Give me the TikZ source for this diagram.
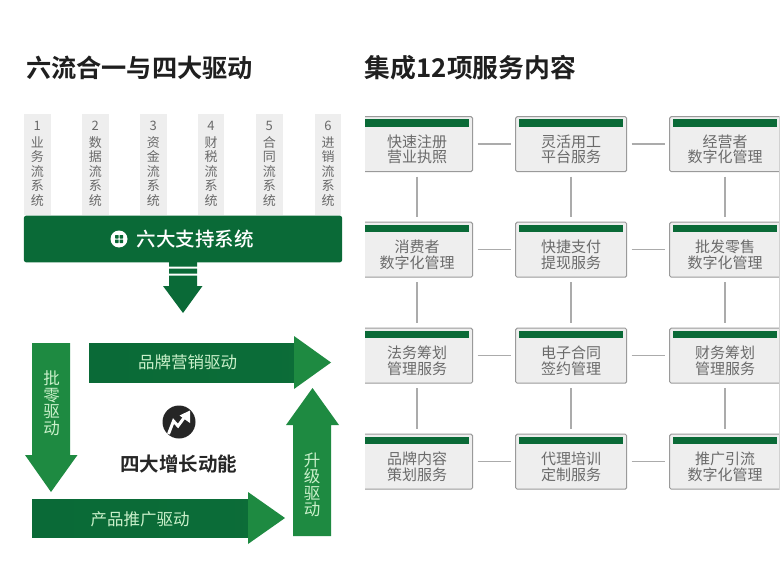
\documentclass[tikz,border=0pt]{standalone}
\usepackage{fontspec}
\setmainfont{Noto Sans CJK SC}[BoldFont={Noto Sans CJK SC Bold}]
\newfontfamily\medfont{Noto Sans CJK SC Medium}
\usetikzlibrary{positioning}
\definecolor{gdark}{HTML}{0A6A37}
\definecolor{glight}{HTML}{1E8A41}
\definecolor{boxfill}{HTML}{EEEEEE}
\definecolor{boxline}{HTML}{9A9A9A}
\definecolor{ctext}{HTML}{6A6A6A}
\definecolor{lnk}{HTML}{ABABAB}
\newcommand{\px}[1]{\fontsize{#1bp}{#1bp}\selectfont}
\tikzset{
  x=1bp,y=-1bp,
  svcbox/.style={draw=boxline,line width=1bp,fill=boxfill,rounded corners=1.5bp,minimum width=111bp,minimum height=55bp,inner sep=0pt},
  svctext/.style={text=ctext,align=center,font=\px{15},inner sep=0pt},
  strip/.style={fill=gdark,draw=none},
  link/.style={draw=lnk,line width=1.5bp,shorten >=4.5bp,shorten <=4.5bp},
  flowcol/.style={fill=boxfill,draw=none,minimum width=26.5bp,minimum height=101bp,inner sep=0pt},
  flowtext/.style={text=ctext,align=center,font=\px{13},inner sep=0pt},
  title/.style={font=\px{25}\bfseries,text=black!88,inner sep=0pt},
  arrowtext/.style={text=boxfill!85!green,font=\px{16.5},inner sep=0pt,align=center},
}
\begin{document}
\begin{tikzpicture}
\useasboundingbox (0,0) rectangle (782,568);
\fill[white] (0,0) rectangle (782,568);
% titles
\node[title,anchor=center] (t1) at (139.5,68) {\px{25.2}六流合一与四大驱动};
\node[title,anchor=center] (t2) at (470.5,68) {\px{25.8}集成12项服务内容};
% flow columns
\foreach \n/\xc/\a/\b in {1/37.3/业/务,2/95.3/数/据,3/153.3/资/金,4/211/财/税,5/269.3/合/同,6/328/进/销}{
  \node[flowcol] (col\n) at (\xc,164.5) {};
  \node[flowtext] (coltxt\n) at (\xc,163.5) {\n\\[4bp]\a\\[1.5bp]\b\\[1.5bp]流\\[1.5bp]系\\[1.5bp]统};
}
% bar
\node[fill=gdark,rounded corners=2bp,minimum width=318bp,minimum height=46.5bp,inner sep=0pt] (bar) at (183,239) {};
\node[text=white,font=\px{19.5}\medfont,inner sep=0pt] (bartxt) at (195,239) {六大支持系统};
\node[circle,fill=white,minimum size=17bp,inner sep=0pt] (icon) at (119,239) {};
\fill[gdark,rounded corners=.5bp] (115,235) rectangle (118.5,238.5) (119.5,235) rectangle (123,238.5) (115,239.5) rectangle (118.5,243) (119.5,239.5) rectangle (123,243);
% down arrow
\fill[gdark] (169,262) rectangle (197,266.5) (169,268.5) rectangle (197,273.5)
  (169,275.5) -- (197,275.5) -- (197,286) -- (202.5,286) -- (183,313) -- (163,286) -- (169,286) -- cycle;
% four arrows
\fill[glight] (32,343) -- (70,343) -- (70,455) -- (77.5,455) -- (51,492) -- (25,455) -- (32,455) -- cycle;
\shade[left color=gdark,right color=gdark!92!glight] (89,343) rectangle (294,382);
\fill[glight] (294,336) -- (331,362.5) -- (294,389) -- cycle;
\shade[left color=gdark,right color=gdark!92!glight] (32,499) rectangle (248,537);
\fill[glight] (248,492) -- (285,518) -- (248,544) -- cycle;
\fill[glight] (293,536) -- (331,536) -- (331,425) -- (339,425) -- (312.5,388) -- (286,425) -- (293,425) -- cycle;
\node[arrowtext] (a1) at (51.5,403) {批\\零\\驱\\动};
\node[arrowtext] (a2) at (187.5,362.5) {品牌营销驱动};
\node[arrowtext] (a3) at (140,519) {产品推广驱动};
\node[arrowtext] (a4) at (312,485) {升\\级\\驱\\动};
% growth icon
\node[circle,fill=black!85,minimum size=33bp,inner sep=0pt] (growth) at (179,422) {};
\draw[white,line width=3bp,line join=miter] (168.5,434) -- (173.5,421) -- (178,426) -- (185,416.5);
\fill[white] (179.5,415.5) -- (190,410.5) -- (190,423) -- cycle;
\node[font=\px{19.5}\bfseries,text=black!85,inner sep=0pt] (growtxt) at (178.5,464) {四大增长动能};
% services
\foreach \r/\yc/\t/\u/\v/\w/\p/\q in {
  1/144.2/快速注册/营业执照/灵活用工/平台服务/经营者/数字化管理,
  2/249.7/消费者/数字化管理/快捷支付/提现服务/批发零售/数字化管理,
  3/355.7/法务筹划/管理服务/电子合同/签约管理/财务筹划/管理服务,
  4/461.7/品牌内容/策划服务/代理培训/定制服务/推广引流/数字化管理}{
  \foreach \c/\xc/\aa/\bb in {1/417/\t/\u,2/571.2/\v/\w,3/725.2/\p/\q}{
    \node[svcbox] (b\r\c) at (\xc,\yc) {};
    \fill[strip] (\xc-52,\yc-25) rectangle (\xc+52,\yc-17.5);
    \node[svctext] (s\r\c) at (\xc,\yc+5) {\aa\\[.5bp]\bb};
  }
}
\foreach \r in {1,2,3,4}{
  \draw[link] (b\r1.east) -- (b\r2.west);
  \draw[link] (b\r2.east) -- (b\r3.west);
}
\foreach \c in {1,2,3}{
  \draw[link] (b1\c.south) -- (b2\c.north);
  \draw[link] (b2\c.south) -- (b3\c.north);
  \draw[link] (b3\c.south) -- (b4\c.north);
}
% image cut edges
\fill[white] (355,105) rectangle (364.5,500);
\fill[white] (778.5,105) rectangle (782,500);
\draw[black!18,line width=1bp] (779,116) -- (779,490);
\end{tikzpicture}
\end{document}
